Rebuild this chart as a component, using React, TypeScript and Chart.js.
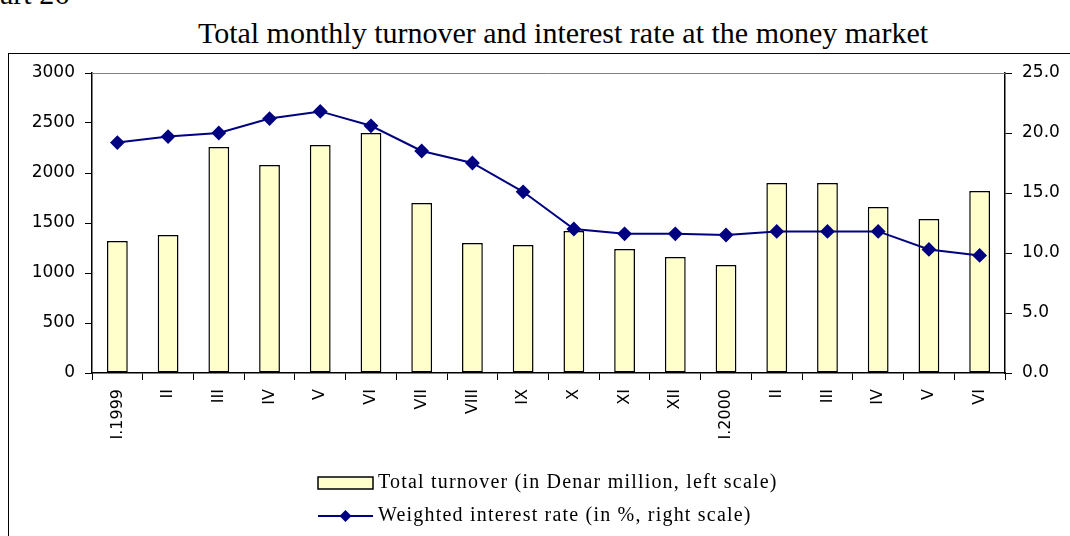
import React, { useEffect, useRef } from "react";
import { Chart, registerables } from "chart.js";

Chart.register(...registerables);

const categories = ["I.1999", "II", "III", "IV", "V", "VI", "VII", "VIII", "IX", "X", "XI", "XII", "I.2000", "II", "III", "IV", "V", "VI"];
const turnover = [1320, 1380, 2260, 2080, 2280, 2400, 1700, 1300, 1280, 1420, 1240, 1160, 1080, 1900, 1900, 1660, 1540, 1820];
const interestRate = [19.2, 19.7, 20.0, 21.2, 21.8, 20.6, 18.5, 17.5, 15.1, 12.0, 11.6, 11.6, 11.5, 11.8, 11.8, 11.8, 10.3, 9.8];
const leftTicks = [0, 500, 1000, 1500, 2000, 2500, 3000];
const rightTicks = [0, 5, 10, 15, 20, 25];
const titleText = "Total monthly turnover and interest rate at the money market";
const chartNumber = "Chart 26";
const turnoverLabel = "Total turnover (in Denar million, left scale)";
const rateLabel = "Weighted interest rate (in %, right scale)";

const SERIF = "'Liberation Serif', 'Times New Roman', serif";
const SANS = "'DejaVu Sans', Arial, sans-serif";

export default function App() {
  const ref = useRef<HTMLCanvasElement | null>(null);

  useEffect(() => {
    if (!ref.current) return;
    const extras = {
      id: "extras",
      beforeDatasetsDraw(chart: any) {
        const { ctx, chartArea } = chart;
        ctx.save();
        ctx.strokeStyle = "#808080";
        ctx.lineWidth = 1;
        ctx.beginPath();
        ctx.moveTo(chartArea.left, Math.round(chartArea.top) + 0.5);
        ctx.lineTo(chartArea.right, Math.round(chartArea.top) + 0.5);
        ctx.stroke();
        ctx.restore();
      },
      afterDraw(chart: any) {
        const { ctx } = chart;
        const bar = chart.data.datasets[0];
        const line = chart.data.datasets[1];
        ctx.save();
        const x0 = 318;
        const w = 55;
        const y1 = 483;
        ctx.fillStyle = bar.backgroundColor;
        ctx.fillRect(x0, y1 - 6, w, 12);
        ctx.strokeStyle = "#000";
        ctx.lineWidth = 1.5;
        ctx.strokeRect(x0, y1 - 6, w, 12);
        ctx.fillStyle = "#000";
        ctx.font = "20px " + SERIF;
        (ctx as any).letterSpacing = "1.2px";
        ctx.textBaseline = "middle";
        ctx.textAlign = "left";
        ctx.fillText(bar.label, x0 + w + 5, y1);
        const y2 = 516;
        ctx.strokeStyle = line.borderColor;
        ctx.lineWidth = 2;
        ctx.beginPath();
        ctx.moveTo(x0, y2);
        ctx.lineTo(x0 + w, y2);
        ctx.stroke();
        const cx = x0 + w / 2;
        const r = 6;
        ctx.fillStyle = line.pointBackgroundColor;
        ctx.beginPath();
        ctx.moveTo(cx, y2 - r);
        ctx.lineTo(cx + r, y2);
        ctx.lineTo(cx, y2 + r);
        ctx.lineTo(cx - r, y2);
        ctx.closePath();
        ctx.fill();
        ctx.fillStyle = "#000";
        ctx.fillText(line.label, x0 + w + 5, y2);
        ctx.restore();
      },
    };

    const chart = new Chart(ref.current, {
      type: "bar",
      data: {
        labels: categories,
        datasets: [
          {
            type: "bar",
            label: turnoverLabel,
            data: turnover,
            yAxisID: "y",
            backgroundColor: "#FFFFCC",
            borderColor: "#000000",
            borderWidth: 1.5,
            borderSkipped: false,
            categoryPercentage: 1,
            barPercentage: 0.41,
            order: 1,
          } as any,
          {
            type: "line",
            label: rateLabel,
            data: interestRate,
            yAxisID: "y1",
            borderColor: "#000080",
            backgroundColor: "#000080",
            pointBackgroundColor: "#000080",
            pointBorderColor: "#000080",
            pointStyle: "rectRot",
            pointRadius: 6,
            borderWidth: 2,
            tension: 0,
            order: 0,
          } as any,
        ],
      },
      options: {
        responsive: false,
        animation: false,
        maintainAspectRatio: false,
        layout: { padding: { top: 73, left: 0, right: 0, bottom: 0 } },
        plugins: {
          legend: { display: false },
          tooltip: { enabled: false },
          title: { display: false },
        },
        scales: {
          x: {
            offset: true,
            grid: { offset: true, drawOnChartArea: false, drawTicks: true, tickLength: 7, color: "#000" },
            border: { display: true, color: "#000", width: 1.5 },
            ticks: {
              maxRotation: 90,
              minRotation: 90,
              autoSkip: false,
              padding: 9,
              color: "#000",
              font: { family: SANS, size: 16 },
            },
            afterFit: (s: any) => { s.height = 163; },
          },
          y: {
            position: "left",
            min: 0,
            max: 3000,
            afterBuildTicks: (s: any) => { s.ticks = leftTicks.map((v) => ({ value: v })); },
            grid: { drawOnChartArea: false, drawTicks: true, tickLength: 7, color: "#000" },
            border: { display: true, color: "#000", width: 1.5 },
            ticks: {
              padding: 10,
              color: "#000",
              font: { family: SANS, size: 17 },
              callback: (v: any) => String(v),
            },
            afterFit: (s: any) => { s.width = 92; },
          },
          y1: {
            position: "right",
            min: 0,
            max: 25,
            afterBuildTicks: (s: any) => { s.ticks = rightTicks.map((v) => ({ value: v })); },
            grid: { drawOnChartArea: false, drawTicks: true, tickLength: 7, color: "#000" },
            border: { display: true, color: "#000", width: 1.5 },
            ticks: {
              padding: 10,
              color: "#000",
              font: { family: SANS, size: 17 },
              callback: (v: any) => Number(v).toFixed(1),
            },
            afterFit: (s: any) => { s.width = 65; },
          },
        },
      },
      plugins: [extras],
    });
    return () => chart.destroy();
  }, []);

  return (
    <div style={{ position: "absolute", left: 0, top: 0, width: 1070, height: 536, overflow: "hidden", background: "#fff" }}>
      <div style={{ position: "absolute", left: -35, top: -21, fontFamily: SERIF, fontSize: 30, whiteSpace: "nowrap", lineHeight: "30px" }}>
        {chartNumber}
      </div>
      <div style={{ position: "absolute", left: 0, width: 1126, top: 18, textAlign: "center", fontFamily: SERIF, fontSize: 30, whiteSpace: "nowrap", lineHeight: "30px" }}>
        {titleText}
      </div>
      <div style={{ position: "absolute", left: 8, top: 53, width: 1100, height: 600, borderLeft: "1.5px solid #000", borderTop: "1.5px solid #000" }} />
      <canvas ref={ref} width={1070} height={536} style={{ position: "absolute", left: 0, top: 0, width: 1070, height: 536 }} />
    </div>
  );
}
